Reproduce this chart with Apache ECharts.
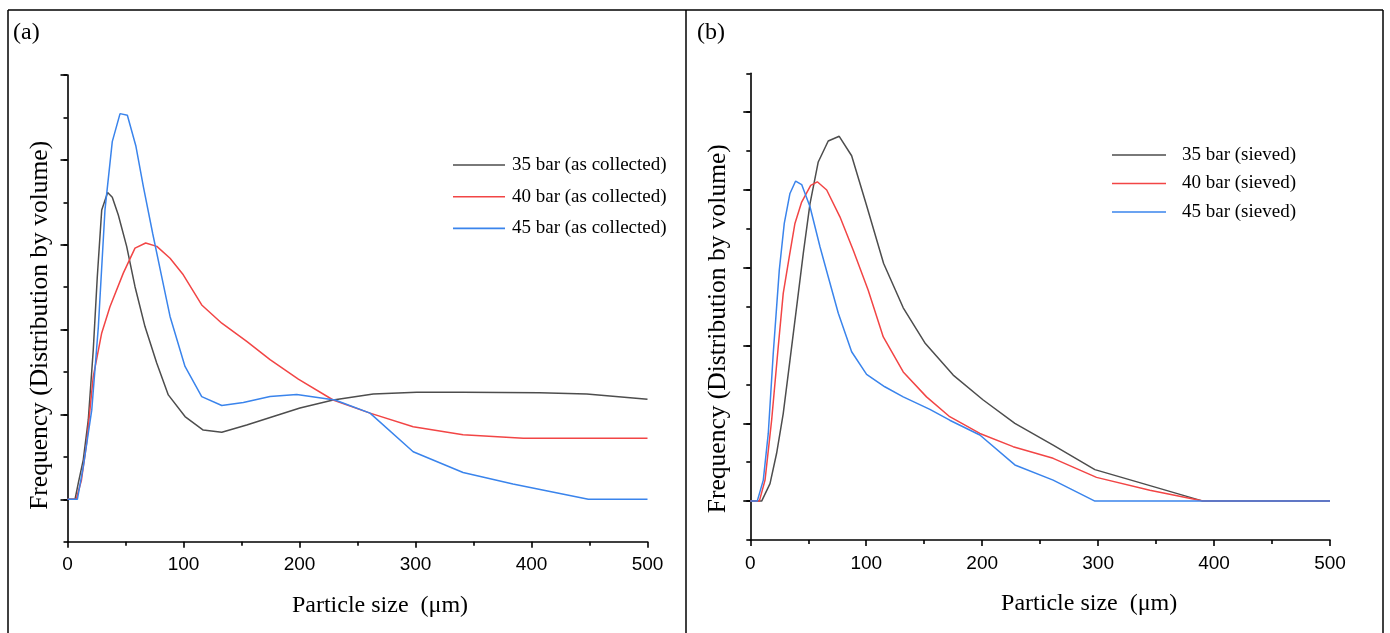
<!DOCTYPE html>
<html>
<head>
<meta charset="utf-8">
<script src="https://cdn.jsdelivr.net/npm/echarts@6/dist/echarts.min.js"></script>
<style>html,body{margin:0;padding:0;background:#fff;}#c{width:1390px;height:633px;}</style>
</head>
<body>
<div id="c"></div>
<script>
// ---- data (particle size in µm, frequency in arbitrary units) ----
var namesA = ['35 bar (as collected)', '40 bar (as collected)', '45 bar (as collected)'];
var namesB = ['35 bar (sieved)', '40 bar (sieved)', '45 bar (sieved)'];
var xTicks = [0, 100, 200, 300, 400, 500];

var a35x = [0, 6.5, 9.3, 13.6, 17.9, 22.2, 25.7, 29.5, 34.6, 38.6, 43.8, 51, 58.2, 66.8, 76.9, 86.9, 101.3, 117, 133, 154.5, 177.4, 200.4, 229, 263.6, 301, 341, 407, 447.6, 500];
var a35y = [0, 0, 0.38, 0.93, 1.87, 3.52, 5.25, 6.82, 7.23, 7.12, 6.7, 5.96, 5.01, 4.07, 3.21, 2.46, 1.95, 1.63, 1.58, 1.75, 1.95, 2.15, 2.34, 2.48, 2.52, 2.52, 2.51, 2.48, 2.36];
var a40x = [0, 7.5, 12, 16.5, 22.2, 29.5, 36.6, 48.1, 58.2, 67.4, 77, 88.4, 99.8, 115.7, 133, 154.5, 174.6, 199, 229, 260.8, 298, 341, 393, 500];
var a40y = [0, 0, 0.45, 1.32, 2.89, 3.92, 4.54, 5.33, 5.92, 6.04, 5.96, 5.68, 5.29, 4.58, 4.15, 3.72, 3.29, 2.83, 2.34, 2.03, 1.71, 1.52, 1.44, 1.44];
var a45x = [0, 8.5, 13.6, 20.9, 26.6, 32.3, 38.6, 45.3, 51.6, 59, 65.4, 73.4, 81.2, 88.4, 101.3, 115.7, 133, 151.6, 174.6, 197.6, 230.6, 260.8, 298, 341, 384, 449, 500];
var a45y = [0, 0, 0.77, 2.1, 4.07, 6.82, 8.43, 9.09, 9.05, 8.32, 7.37, 6.27, 5.25, 4.31, 3.13, 2.42, 2.21, 2.28, 2.42, 2.47, 2.34, 2.03, 1.12, 0.63, 0.36, 0, 0];

var b35x = [0, 9.8, 17, 22.7, 28.4, 34.2, 40, 45.7, 51.5, 58.6, 67.2, 76.7, 87.4, 100.3, 115, 131.9, 151, 175, 200.9, 228.2, 261.2, 297.2, 338.8, 390.5, 500];
var b35y = [0, 0, 0.45, 1.23, 2.25, 3.62, 5.0, 6.37, 7.65, 8.72, 9.26, 9.38, 8.88, 7.6, 6.11, 4.97, 4.05, 3.24, 2.6, 2.0, 1.44, 0.81, 0.45, 0, 0];
var b40x = [0, 7.8, 12.7, 18.4, 24.1, 28.4, 33.6, 38.5, 44.3, 52.1, 57.8, 65.9, 77.3, 88.8, 101.7, 114.7, 131.9, 152, 172, 198, 226.7, 261.2, 298.6, 344.6, 390.5, 500];
var b40y = [0, 0, 0.54, 2.08, 3.97, 5.34, 6.28, 7.14, 7.69, 8.12, 8.21, 8.0, 7.31, 6.45, 5.42, 4.22, 3.32, 2.68, 2.17, 1.74, 1.40, 1.1, 0.61, 0.28, 0, 0];
var b45x = [0, 6, 11.2, 15.5, 19.8, 25, 29.3, 34.2, 39.1, 44.3, 51.5, 60.1, 67.2, 75.9, 87.4, 100.3, 116, 131.9, 154.9, 172, 198, 228.2, 261.2, 297.2, 500];
var b45y = [0, 0, 0.54, 1.74, 3.8, 5.94, 7.14, 7.91, 8.23, 8.14, 7.57, 6.54, 5.77, 4.83, 3.84, 3.26, 2.94, 2.68, 2.36, 2.08, 1.70, 0.93, 0.54, 0, 0];

var yMajorA = [0, 2, 4, 6, 8, 10];
var yMajorB = [0, 2, 4, 6, 8, 10];

// ---- helpers ----
function zip(xs, ys) { return xs.map(function (x, i) { return [x, ys[i]]; }); }
var colors = ['#4d4d4d', '#f24545', '#3a84ec'];
var serif = 'Liberation Serif, Times New Roman, serif';
var sans = 'Liberation Sans, Arial, sans-serif';
var black = '#000';

function xAxisFor(grid, shift) {
  return {
    type: 'value', gridIndex: grid, min: 0, max: 500, interval: 100,
    splitLine: { show: false },
    axisLine: { onZero: false, lineStyle: { color: black, width: 1.6 } },
    axisTick: { inside: false, length: 6, lineStyle: { color: black, width: 1.6 } },
    minorTick: { show: true, splitNumber: 2, length: 4, lineStyle: { color: black, width: 1.6 } },
    axisLabel: { color: black, fontFamily: sans, fontSize: 19, margin: 14,
      customValues: xTicks },
    name: 'Particle size  (\u03bcm)', nameLocation: 'middle', nameGap: 52,
    nameTextStyle: { color: black, fontFamily: serif, fontSize: 24, padding: [0, 0, 0, shift] }
  };
}
function yMinor(grid, max, gap, shift) {
  return {
    type: 'value', gridIndex: grid, min: -1, max: max, interval: 1, position: 'left',
    splitLine: { show: false },
    axisLine: { show: true, onZero: false, lineStyle: { color: black, width: 1.6 } },
    axisTick: { inside: false, length: 4, lineStyle: { color: black, width: 1.6 } },
    axisLabel: { show: false },
    name: 'Frequency (Distribution by volume)', nameLocation: 'middle', nameGap: gap,
    nameTextStyle: { color: black, fontFamily: serif, fontSize: 25.5, padding: [0, shift, 0, 0] }
  };
}
function yMajor(grid, max, vals) {
  return {
    type: 'value', gridIndex: grid, min: -1, max: max, position: 'left',
    splitLine: { show: false },
    axisLine: { show: false, onZero: false },
    axisTick: { show: true, inside: false, length: 7, customValues: vals, lineStyle: { color: black, width: 1.6 } },
    axisLabel: { show: false, customValues: vals }
  };
}
function line(name, xs, ys, xi, yi, c) {
  return { name: name, type: 'line', xAxisIndex: xi, yAxisIndex: yi, data: zip(xs, ys),
    symbol: 'none', smooth: false, lineStyle: { color: c, width: 1.5 }, itemStyle: { color: c },
    silent: true, animation: false };
}

var chart = echarts.init(document.getElementById('c'), null, { renderer: 'canvas' });
chart.setOption({
  backgroundColor: '#fff',
  animation: false,
  grid: [
    { left: 67.5, top: 75, width: 580, height: 466.7 },
    { left: 750.3, top: 73.3, width: 579.7, height: 466.7 }
  ],
  xAxis: [xAxisFor(0, 45), xAxisFor(1, 98)],
  yAxis: [yMinor(0, 10, 14, 34), yMajor(0, 10, yMajorA), yMinor(1, 11, 19, 44), yMajor(1, 11, yMajorB)],
  legend: [
    { data: namesA, orient: 'vertical', left: 453, top: 155, padding: 0, icon: 'rect', itemWidth: 52, itemHeight: 1.6, itemGap: 11.7,
      textStyle: { color: black, fontFamily: serif, fontSize: 19, lineHeight: 20, padding: [0, 0, 0, 2] }, selectedMode: false },
    { data: namesB, orient: 'vertical', left: 1112, top: 145, padding: 0, icon: 'rect', itemWidth: 54, itemHeight: 1.6, itemGap: 8.5,
      textStyle: { color: black, fontFamily: serif, fontSize: 19, lineHeight: 20, padding: [0, 0, 0, 11] }, selectedMode: false }
  ],
  series: [
    line(namesA[0], a35x, a35y, 0, 0, colors[0]),
    line(namesA[1], a40x, a40y, 0, 0, colors[1]),
    line(namesA[2], a45x, a45y, 0, 0, colors[2]),
    line(namesB[0], b35x, b35y, 1, 2, colors[0]),
    line(namesB[1], b40x, b40y, 1, 2, colors[1]),
    line(namesB[2], b45x, b45y, 1, 2, colors[2])
  ],
  graphic: [
    { type: 'line', shape: { x1: 8, y1: 10, x2: 1383, y2: 10 }, style: { stroke: black, lineWidth: 1.5 } },
    { type: 'line', shape: { x1: 8, y1: 10, x2: 8, y2: 633 }, style: { stroke: black, lineWidth: 1.5 } },
    { type: 'line', shape: { x1: 686, y1: 10, x2: 686, y2: 633 }, style: { stroke: black, lineWidth: 1.5 } },
    { type: 'line', shape: { x1: 1383, y1: 10, x2: 1383, y2: 633 }, style: { stroke: black, lineWidth: 1.5 } },
    { type: 'text', left: 13, top: 21, style: { text: '(a)', fill: black, font: '24px ' + serif } },
    { type: 'text', left: 697, top: 21, style: { text: '(b)', fill: black, font: '24px ' + serif } }
  ]
});
</script>
</body>
</html>
